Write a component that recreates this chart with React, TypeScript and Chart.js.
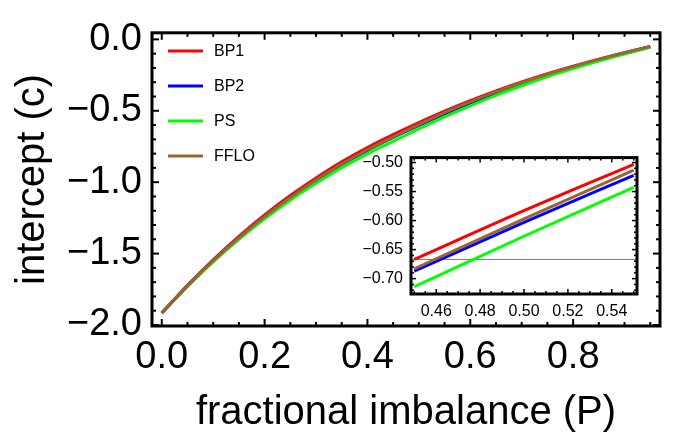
import React, { useEffect, useRef } from "react";
import { Chart, registerables } from "chart.js";

Chart.register(...registerables);

// ---- data ----
const P_VALUES = [0, 0.05, 0.1, 0.15, 0.2, 0.25, 0.3, 0.35, 0.4, 0.45, 0.5, 0.55, 0.6, 0.65, 0.7, 0.75, 0.8, 0.85, 0.9, 0.95];
const BP1 = [-1.916, -1.722, -1.543, -1.379, -1.229, -1.093, -0.970, -0.857, -0.757, -0.667, -0.583, -0.503, -0.429, -0.361, -0.298, -0.240, -0.187, -0.138, -0.093, -0.050];
const BP2 = [-1.916, -1.726, -1.551, -1.390, -1.243, -1.109, -0.988, -0.876, -0.777, -0.687, -0.603, -0.522, -0.446, -0.376, -0.311, -0.251, -0.196, -0.144, -0.097, -0.052];
const PS = [-1.916, -1.730, -1.558, -1.401, -1.257, -1.126, -1.008, -0.899, -0.802, -0.714, -0.627, -0.543, -0.465, -0.392, -0.325, -0.262, -0.205, -0.152, -0.103, -0.056];
const FFLO = [-1.916, -1.726, -1.550, -1.389, -1.241, -1.107, -0.985, -0.873, -0.773, -0.683, -0.597, -0.513, -0.437, -0.368, -0.303, -0.244, -0.190, -0.140, -0.094, -0.050];

const SERIES_NAMES = ["BP1", "BP2", "PS", "FFLO"];
const SERIES_VALUES = [BP1, BP2, PS, FFLO];
const SERIES_COLORS = ["#ff0000", "#0000ff", "#00ff00", "#996633"];

const MAIN_X_TICKS = [0, 0.2, 0.4, 0.6, 0.8];
const MAIN_Y_TICKS = [-2, -1.5, -1, -0.5, 0];
const INSET_X_TICKS = [0.46, 0.48, 0.5, 0.52, 0.54];
const INSET_Y_TICKS = [-0.7, -0.65, -0.6, -0.55, -0.5];
const INSET_P_RANGE = [0.45, 0.55];
const INSET_REF_LEVEL = -0.667;

const X_TITLE = "fractional imbalance (P)";
const Y_TITLE = "intercept (c)";

const FONT = "'Liberation Sans', Arial, Helvetica, sans-serif";

const fmt = (v: number, d: number) => v.toFixed(d).replace("-", "\u2212");

function framePlugin(id: string, xMinor: number, yMinor: number, majorLen: number, minorLen: number, frameW: number, tickW: number) {
  return {
    id,
    afterDatasetsDraw(chart: any) {
      const { ctx, chartArea: a, scales } = chart;
      const xs = scales.x, ys = scales.y;
      ctx.save();
      ctx.strokeStyle = "#000";
      ctx.lineWidth = tickW;
      const seg = (x1: number, y1: number, x2: number, y2: number) => {
        ctx.beginPath(); ctx.moveTo(x1, y1); ctx.lineTo(x2, y2); ctx.stroke();
      };
      const majorsX: number[] = xs.ticks.map((t: any) => t.value);
      const majorsY: number[] = ys.ticks.map((t: any) => t.value);
      const near = (v: number, arr: number[], step: number) => arr.some((m) => Math.abs(m - v) < step * 0.01);
      for (let k = Math.ceil(xs.min / xMinor); k <= Math.floor(xs.max / xMinor); k++) {
        const v = k * xMinor;
        const len = near(v, majorsX, xMinor) ? majorLen : minorLen;
        const px = xs.getPixelForValue(v);
        seg(px, a.bottom, px, a.bottom - len);
        seg(px, a.top, px, a.top + len);
      }
      for (let k = Math.ceil(ys.min / yMinor); k <= Math.floor(ys.max / yMinor); k++) {
        const v = k * yMinor;
        const len = near(v, majorsY, yMinor) ? majorLen : minorLen;
        const py = ys.getPixelForValue(v);
        seg(a.left, py, a.left + len, py);
        seg(a.right, py, a.right - len, py);
      }
      ctx.lineWidth = frameW;
      ctx.strokeRect(a.left, a.top, a.right - a.left, a.bottom - a.top);
      ctx.restore();
    },
  };
}

const legendPlugin = {
  id: "customLegend",
  afterDatasetsDraw(chart: any) {
    const { ctx } = chart;
    ctx.save();
    ctx.font = `16px ${FONT}`;
    ctx.textBaseline = "middle";
    ctx.textAlign = "left";
    SERIES_NAMES.forEach((name, i) => {
      const y = 51 + i * 35;
      ctx.strokeStyle = SERIES_COLORS[i];
      ctx.lineWidth = 3;
      ctx.beginPath(); ctx.moveTo(168, y); ctx.lineTo(203, y); ctx.stroke();
      ctx.fillStyle = "#000";
      ctx.fillText(name, 214, y + 1);
    });
    ctx.restore();
  },
};

function makeDatasets(filter?: (p: number) => boolean) {
  return SERIES_NAMES.map((name, i) => ({
    label: name,
    data: P_VALUES.map((p, j) => ({ x: p, y: SERIES_VALUES[i][j] })).filter((d) => (filter ? filter(d.x) : true)),
    borderColor: SERIES_COLORS[i],
    backgroundColor: SERIES_COLORS[i],
    borderWidth: 3,
    pointRadius: 0,
    cubicInterpolationMode: "monotone" as const,
    order: SERIES_NAMES.length - i,
  }));
}

export default function App() {
  const mainRef = useRef<HTMLCanvasElement>(null);
  const insetRef = useRef<HTMLCanvasElement>(null);

  useEffect(() => {
    const main = new Chart(mainRef.current!, {
      type: "line",
      data: { datasets: makeDatasets() as any },
      options: {
        animation: false,
        responsive: false,
        devicePixelRatio: 1,
        layout: { padding: { top: 13, right: 26, left: 0, bottom: 0 }, autoPadding: false } as any,
        plugins: { legend: { display: false }, tooltip: { enabled: false } },
        scales: {
          x: {
            type: "linear",
            min: -0.019,
            max: 0.969,
            afterBuildTicks: (s: any) => { s.ticks = MAIN_X_TICKS.map((v) => ({ value: v })); },
            afterFit: (s: any) => { s.height = 111; },
            grid: { display: false, drawTicks: false },
            border: { display: false },
            ticks: { padding: 9, color: "#000", font: { family: FONT, size: 38 }, maxRotation: 0, callback: (v: any) => fmt(Number(v), 1) },
            title: { display: true, text: X_TITLE, color: "#000", font: { family: FONT, size: 40 }, padding: { top: 0, bottom: 0 } },
          },
          y: {
            type: "linear",
            min: -2.007,
            max: 0.046,
            afterBuildTicks: (s: any) => { s.ticks = MAIN_Y_TICKS.map((v) => ({ value: v })); },
            afterFit: (s: any) => { s.width = 152; },
            grid: { display: false, drawTicks: false },
            border: { display: false },
            ticks: { padding: 10, color: "#000", font: { family: FONT, size: 38 }, callback: (v: any) => fmt(Number(v), 1) },
            title: { display: true, text: Y_TITLE, color: "#000", font: { family: FONT, size: 40 }, padding: { top: 9, bottom: 0 } },
          },
        },
      },
      plugins: [framePlugin("mainFrame", 0.05, 0.1, 7, 4, 3, 2), legendPlugin],
    });

    const insetDatasets: any[] = makeDatasets((p) => p >= INSET_P_RANGE[0] - 1e-9 && p <= INSET_P_RANGE[1] + 1e-9);
    insetDatasets.push({
      label: "ref",
      data: [{ x: 0.4, y: INSET_REF_LEVEL }, { x: 0.6, y: INSET_REF_LEVEL }],
      borderColor: "#808080",
      borderWidth: 1,
      pointRadius: 0,
      order: 10,
    });

    const inset = new Chart(insetRef.current!, {
      type: "line",
      data: { datasets: insetDatasets },
      options: {
        animation: false,
        responsive: false,
        devicePixelRatio: 1,
        layout: { padding: { top: 13, right: 13, left: 0, bottom: 0 }, autoPadding: false } as any,
        plugins: { legend: { display: false }, tooltip: { enabled: false } },
        scales: {
          x: {
            type: "linear",
            min: 0.4485,
            max: 0.5515,
            afterBuildTicks: (s: any) => { s.ticks = INSET_X_TICKS.map((v) => ({ value: v })); },
            afterFit: (s: any) => { s.height = 36; },
            grid: { display: false, drawTicks: false },
            border: { display: false },
            ticks: { padding: 8, color: "#000", font: { family: FONT, size: 16 }, maxRotation: 0, callback: (v: any) => fmt(Number(v), 2) },
          },
          y: {
            type: "linear",
            min: -0.7265,
            max: -0.4915,
            afterBuildTicks: (s: any) => { s.ticks = INSET_Y_TICKS.map((v) => ({ value: v })); },
            afterFit: (s: any) => { s.width = 61; },
            grid: { display: false, drawTicks: false },
            border: { display: false },
            ticks: { padding: 8, color: "#000", font: { family: FONT, size: 16 }, callback: (v: any) => fmt(Number(v), 2) },
          },
        },
      },
      plugins: [framePlugin("insetFrame", 0.005, 0.01, 5, 3, 3, 1.5)],
    });

    return () => {
      main.destroy();
      inset.destroy();
    };
  }, []);

  return (
    <div style={{ position: "absolute", left: 0, top: 0, width: 686, height: 437, background: "#fff" }}>
      <canvas ref={mainRef} width={686} height={437} style={{ position: "absolute", left: 0, top: 0, width: 686, height: 437 }} />
      <canvas ref={insetRef} width={300} height={190} style={{ position: "absolute", left: 350, top: 140, width: 300, height: 190 }} />
    </div>
  );
}
